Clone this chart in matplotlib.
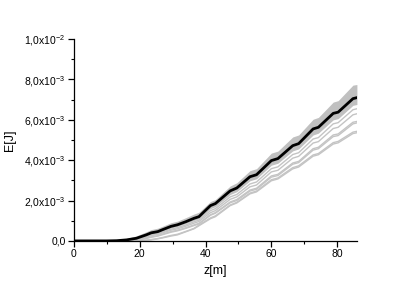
import matplotlib
matplotlib.use("Agg")
import matplotlib.pyplot as plt
from matplotlib.ticker import FixedLocator, MultipleLocator, FuncFormatter
import numpy as np

plt.rcParams['font.family'] = ['Liberation Sans', 'DejaVu Sans']
plt.rcParams['mathtext.default'] = 'regular'

# z grid [m]
z = [0, 10, 13, 16, 19, 22, 23.5, 25.5, 27, 29.5, 31.5, 34, 36.5, 38, 41.5, 43,
     47.5, 49.5, 53.5, 55.5, 60, 62, 66.5, 68.3, 72.7, 74.3, 78.8, 80.3, 84.8, 86]

# energies in units of 1e-3 J
black = [0, 0, 0.01, 0.05, 0.13, 0.3, 0.4, 0.46, 0.56, 0.72, 0.8, 0.95, 1.12, 1.2,
         1.75, 1.85, 2.48, 2.62, 3.18, 3.28, 3.98, 4.08, 4.72, 4.82, 5.55, 5.63,
         6.32, 6.38, 7.05, 7.1]
band_upper = [0, 0.01, 0.05, 0.12, 0.25, 0.45, 0.56, 0.63, 0.73, 0.9, 0.98, 1.15,
              1.33, 1.42, 1.95, 2.05, 2.72, 2.88, 3.48, 3.58, 4.35, 4.45, 5.15,
              5.25, 6.03, 6.12, 6.88, 6.95, 7.72, 7.75]
band_lower = [0, 0, 0.005, 0.03, 0.1, 0.25, 0.34, 0.4, 0.5, 0.64, 0.72, 0.86,
              1.02, 1.1, 1.6, 1.7, 2.3, 2.44, 2.98, 3.08, 3.75, 3.85, 4.46, 4.56,
              5.25, 5.34, 6.0, 6.06, 6.72, 6.76]
line_a = [0, 0, 0, 0.02, 0.08, 0.22, 0.3, 0.36, 0.45, 0.58, 0.66, 0.79, 0.95,
          1.03, 1.5, 1.6, 2.18, 2.3, 2.82, 2.92, 3.58, 3.67, 4.28, 4.37, 5.05,
          5.12, 5.8, 5.86, 6.5, 6.55]
line_b = [0, 0, 0, 0.015, 0.06, 0.19, 0.26, 0.32, 0.4, 0.53, 0.6, 0.73, 0.88,
          0.96, 1.4, 1.5, 2.06, 2.18, 2.68, 2.77, 3.42, 3.5, 4.1, 4.19, 4.85,
          4.92, 5.57, 5.63, 6.25, 6.3]
line_c = [0, 0, 0, 0.01, 0.04, 0.14, 0.2, 0.26, 0.34, 0.46, 0.53, 0.65, 0.79,
          0.87, 1.3, 1.4, 1.93, 2.05, 2.52, 2.61, 3.22, 3.3, 3.86, 3.94, 4.57,
          4.64, 5.25, 5.3, 5.88, 5.92]
line_d = [0, 0, 0, 0.01, 0.03, 0.12, 0.18, 0.24, 0.31, 0.43, 0.5, 0.62, 0.76,
          0.84, 1.27, 1.37, 1.89, 2.0, 2.47, 2.56, 3.16, 3.24, 3.8, 3.88, 4.5,
          4.57, 5.17, 5.22, 5.8, 5.85]
line_e = [0, 0, 0, 0, 0.01, 0.04, 0.07, 0.12, 0.17, 0.27, 0.33, 0.47, 0.62,
          0.78, 1.14, 1.24, 1.78, 1.91, 2.37, 2.47, 3.03, 3.12, 3.63, 3.72, 4.26,
          4.33, 4.87, 4.93, 5.39, 5.43]
line_f = [0, 0, 0, 0, 0.01, 0.03, 0.05, 0.1, 0.15, 0.24, 0.3, 0.45, 0.6, 0.75,
          1.1, 1.2, 1.75, 1.88, 2.33, 2.43, 2.98, 3.07, 3.57, 3.66, 4.2, 4.27,
          4.8, 4.86, 5.32, 5.36]

y_ticks = [0, 2e-3, 4e-3, 6e-3, 8e-3, 1e-2]
y_tick_labels = ["0,0", "2,0x10$^{-3}$", "4,0x10$^{-3}$", "6,0x10$^{-3}$",
                 "8,0x10$^{-3}$", "1,0x10$^{-2}$"]
x_ticks = [0, 20, 40, 60, 80]

scale = 1e-3
zz = np.array(z)

fig = plt.figure(figsize=(4.15, 2.92), dpi=100)
ax = fig.add_axes([0.178, 0.175, 0.682, 0.691])

ax.fill_between(zz, np.array(band_lower) * scale, np.array(band_upper) * scale,
                color='#c0c0c0', linewidth=0, zorder=1)
for ln in [line_a, line_b, line_c, line_d, line_e, line_f]:
    ax.plot(zz, np.array(ln) * scale, color='#c4c4c4', lw=1.0, zorder=2)
ax.plot(zz, np.array(black) * scale, color='black', lw=2.0, zorder=3)

ax.set_xlim(0, 86)
ax.set_ylim(0, 1e-2)
ax.set_yticks(y_ticks)
ax.set_yticklabels(y_tick_labels)
ax.yaxis.set_minor_locator(MultipleLocator(1e-3))
ax.set_xticks(x_ticks)
ax.xaxis.set_minor_locator(MultipleLocator(10))

for s in ['top', 'right']:
    ax.spines[s].set_visible(False)
for s in ['left', 'bottom']:
    ax.spines[s].set_linewidth(0.9)

ax.tick_params(which='major', direction='out', length=4, width=0.9, labelsize=7.5, pad=2)
ax.tick_params(which='minor', direction='out', length=2.5, width=0.8)

ax.set_xlabel('z[m]', fontsize=9, labelpad=4)
ax.set_ylabel('E[J]', fontsize=9, labelpad=6)

fig.savefig('out.png', dpi=100)
